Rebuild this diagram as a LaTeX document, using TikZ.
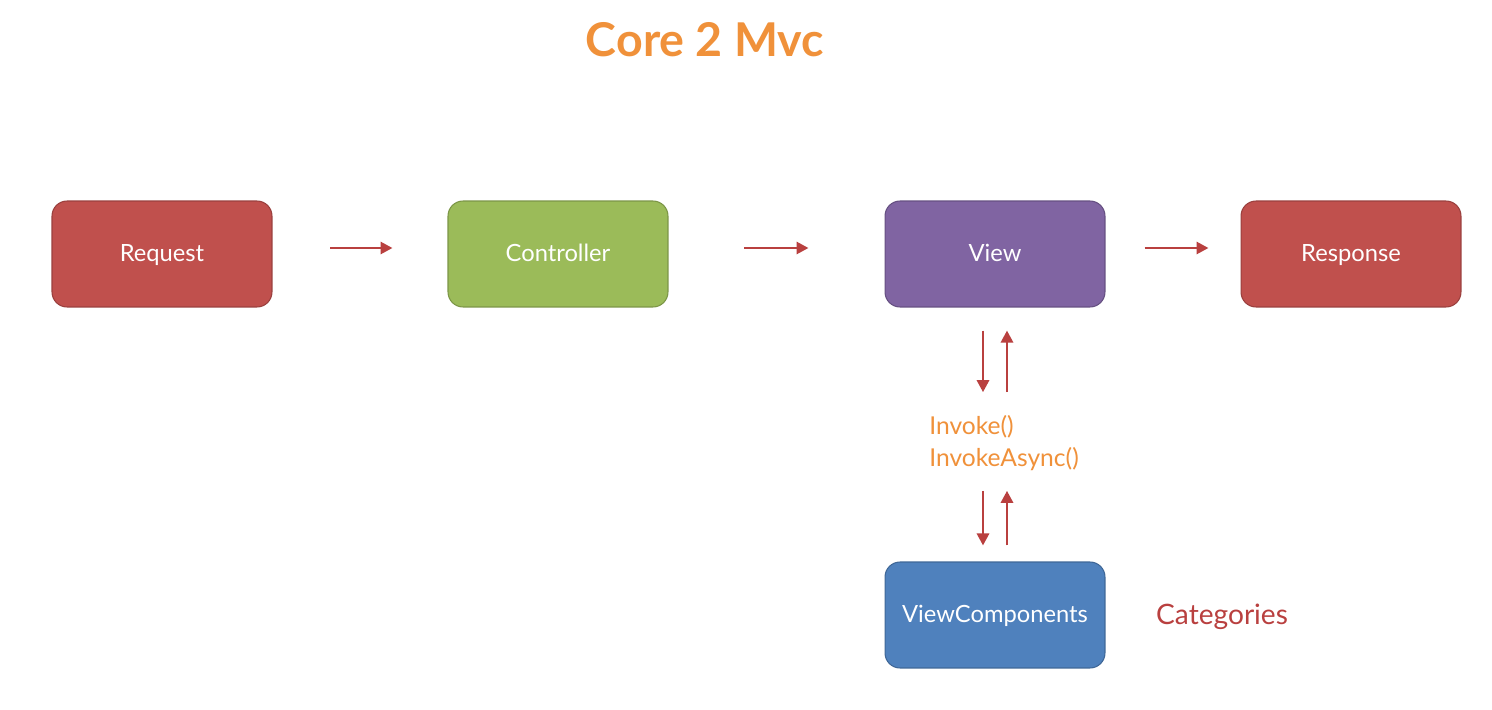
\documentclass[tikz,border=0pt]{standalone}
\usepackage{fontspec}
\setmainfont{Lato}
\usetikzlibrary{positioning,calc,arrows.meta}
\definecolor{reqred}{HTML}{C0504D}
\definecolor{ctlgreen}{HTML}{9BBB59}
\definecolor{viewpurple}{HTML}{8064A2}
\definecolor{vcblue}{HTML}{4F81BD}
\definecolor{arrowred}{HTML}{B9403F}
\definecolor{titleorange}{HTML}{F0913A}
\tikzset{
    mvcbox/.style={draw=#1!80!black, fill=#1, rounded corners=0.3cm,
                   minimum width=4.4cm, minimum height=2.12cm,
                   text height=10pt, text depth=1pt,
                   text=white, font=\fontsize{13.5}{16}\selectfont, line width=0.6pt},
    flow/.style={-{Triangle[length=0.24cm,width=0.24cm]}, draw=arrowred, line width=1.6pt}
}
\begin{document}
\begin{tikzpicture}[x=0.02cm,y=-0.02cm]
    % Frame
    \useasboundingbox (0,0) rectangle (1492,710);
    \fill[white] (0,0) rectangle (1492,710);

    % Title
    \node[text=titleorange, font=\bfseries\fontsize{26.5}{30}\selectfont] (title) at (705,40) {Core 2 Mvc};

    % Boxes
    \node[mvcbox=reqred] (request) at (162,254) {Request};
    \node[mvcbox=ctlgreen] (controller) at (558,254) {Controller};
    \node[mvcbox=viewpurple] (view) at (995,254) {View};
    \node[mvcbox=reqred] (response) at (1351,254) {Response};
    \node[mvcbox=vcblue] (viewcomp) at (995,615) {ViewComponents};

    % Labels
    \node[anchor=west, align=left, inner sep=0pt, text=titleorange,
          font=\fontsize{14}{18}\selectfont] (invoke) at (929,443) {Invoke()\\InvokeAsync()};
    \node[anchor=west, text=arrowred, font=\fontsize{16}{19}\selectfont] (categories) at (1150,617) {Categories};

    % Arrows along the pipeline
    \draw[flow, shorten <=1.16cm, shorten >=1.1cm] ([yshift=0.12cm]request.east) -- ([yshift=0.12cm]controller.west);
    \draw[flow, shorten <=1.52cm, shorten >=1.52cm] ([yshift=0.12cm]controller.east) -- ([yshift=0.12cm]view.west);
    \draw[flow, shorten <=0.78cm, shorten >=0.64cm] ([yshift=0.12cm]view.east) -- ([yshift=0.12cm]response.west);

    % Arrows between view and components
    \draw[flow, shorten <=0.46cm, shorten >=0.46cm] ([xshift=-0.24cm]view.south) -- ([xshift=-0.24cm]view.south |- invoke.north);
    \draw[flow, shorten <=0.46cm, shorten >=0.46cm] ([xshift=0.24cm]view.south |- invoke.north) -- ([xshift=0.24cm]view.south);
    \draw[flow, shorten <=0.4cm, shorten >=0.32cm] ([xshift=-0.24cm]view.south |- invoke.south) -- ([xshift=-0.24cm]viewcomp.north);
    \draw[flow, shorten <=0.32cm, shorten >=0.4cm] ([xshift=0.24cm]viewcomp.north) -- ([xshift=0.24cm]view.south |- invoke.south);
\end{tikzpicture}
\end{document}
